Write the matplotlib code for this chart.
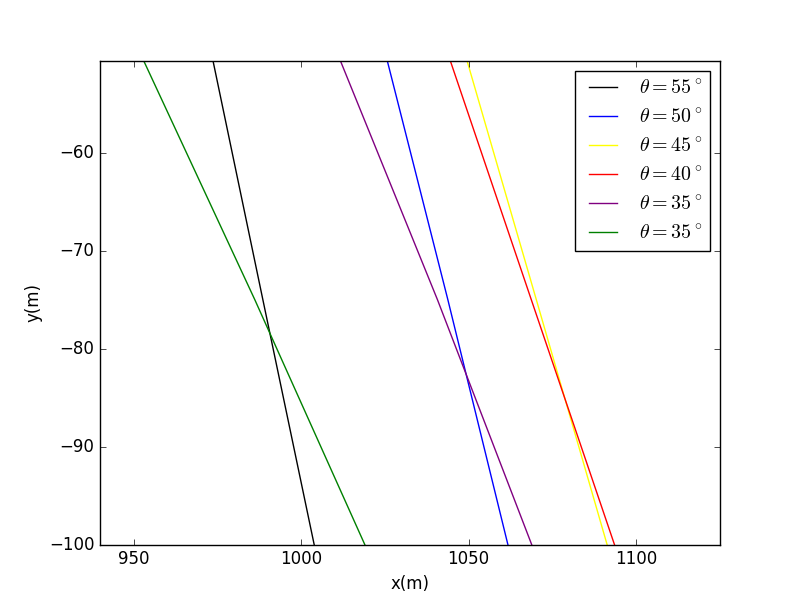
import matplotlib
matplotlib.use('Agg')
import matplotlib.pyplot as plt

plt.style.use('classic')

# values: x at the top edge, at y=-75 and at the bottom edge
y_top, y_mid, y_bot = -50.56, -75.0, -100.0
y_pts = [y_top, y_mid, y_bot]

x_black = [973.7, 988.6, 1003.9]
x_blue = [1025.7, 1043.8, 1061.7]
x_yellow = [1049.5, 1070.2, 1091.3]
x_red = [1044.5, 1068.7, 1093.5]
x_purple = [1011.7, 1040.7, 1068.8]
x_green = [953.0, 986.2, 1019.0]

angles = [55, 50, 45, 40, 35, 35]
colors = ['black', 'blue', 'yellow', 'red', 'purple', 'green']
series = [x_black, x_blue, x_yellow, x_red, x_purple, x_green]

fig = plt.figure(figsize=(8, 6.05), dpi=100)
ax = fig.add_subplot(111)

for xs, ang, c in zip(series, angles, colors):
    ax.plot(xs, y_pts, color=c, label=r'$\theta = %d^\circ$' % ang)

ax.set_xlim(940, 1125)
ax.set_ylim(-100, y_top)
ax.set_xticks([950, 1000, 1050, 1100])
ax.set_yticks([-60, -70, -80, -90, -100])
ax.set_xlabel('x(m)')
ax.set_ylabel('y(m)')
ax.legend(loc='upper right')

fig.savefig('out.png', dpi=100, facecolor='white')
